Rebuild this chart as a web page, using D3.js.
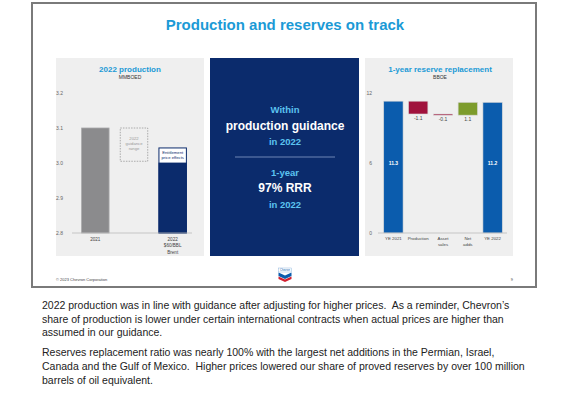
<!DOCTYPE html>
<html><head><meta charset="utf-8">
<script src="https://cdn.jsdelivr.net/npm/d3@7"></script>
<style>html,body{margin:0;padding:0;background:#fff;}svg{display:block;font-family:"Liberation Sans",Arial,sans-serif;}</style>
</head><body>
<svg id="c" width="576" height="394"></svg>
<script>
// ---- data ----
const prodCategories = ["2021", "guidance", "2022"];
const prodValues = [3.1, null, 3.0];
const guidanceRange = [3.005, 3.1];
const entitlementTop = 3.043;
const prodTicks = [2.8, 2.9, 3.0, 3.1, 3.2];
const prodXLabels = [["2021"], [], ["2022", "$60/BBL", "Brent"]];

const reserveCategories = ["YE 2021", "Production", "Asset sales", "Net adds", "YE 2022"];
const reserveValues = [11.3, -1.1, -0.1, 1.1, 11.2];
const reserveTypes = ["total", "neg", "neg", "pos", "total"];
const reserveTicks = [0, 6, 12];
const reserveXLabels = [["YE 2021"], ["Production"], ["Asset", "sales"], ["Net", "adds"], ["YE 2022"]];

const bodyText = [
  ["2022 production was in line with guidance after adjusting for higher prices.  As a reminder, Chevron\u2019s",
   "share of production is lower under certain international contracts when actual prices are higher than",
   "assumed in our guidance."],
  ["Reserves replacement ratio was nearly 100% with the largest net additions in the Permian, Israel,",
   "Canada and the Gulf of Mexico.  Higher prices lowered our share of proved reserves by over 100 million",
   "barrels of oil equivalent."]
];

const svg = d3.select("#c");
const cyan = "#1b9ad6";

// slide frame
svg.append("rect").attr("x", 32).attr("y", 3).attr("width", 504).attr("height", 284)
  .attr("fill", "#fff").attr("stroke", "#7a7a7a").attr("stroke-width", 2);

svg.append("text").attr("x", 285).attr("y", 30).attr("text-anchor", "middle")
  .attr("font-size", 15).attr("font-weight", "bold").attr("fill", cyan)
  .text("Production and reserves on track");

// panels
svg.append("rect").attr("x", 56).attr("y", 58).attr("width", 148).attr("height", 198).attr("fill", "#efefef");
svg.append("rect").attr("x", 210).attr("y", 58).attr("width", 149).attr("height", 198).attr("fill", "#0b2b6c");
svg.append("rect").attr("x", 365).attr("y", 58).attr("width", 148).attr("height", 198).attr("fill", "#efefef");

// ---------- left chart ----------
const yL = d3.scaleLinear().domain([2.8, 3.2]).range([233, 93]);
const xL = d3.scaleBand().domain(prodCategories).range([76, 192]).paddingInner(0.29).paddingOuter(0.145);
const gL = svg.append("g");
gL.append("text").attr("x", 130).attr("y", 72).attr("text-anchor", "middle").attr("font-size", 8)
  .attr("font-weight", "bold").attr("fill", cyan).text("2022 production");
gL.append("text").attr("x", 130).attr("y", 79).attr("text-anchor", "middle").attr("font-size", 5)
  .attr("fill", "#333").text("MMBOED");

const axL = gL.append("g").attr("transform", "translate(66,0)")
  .call(d3.axisLeft(yL).tickValues(prodTicks).tickFormat(d3.format(".1f")).tickSize(0));
axL.select(".domain").remove();
axL.selectAll("text").attr("font-size", 5).attr("fill", "#666").attr("font-family", "Liberation Sans, Arial");

// entitlement box
gL.append("rect").attr("x", xL("2022")).attr("y", yL(entitlementTop)).attr("width", xL.bandwidth())
  .attr("height", yL(2.8) - yL(entitlementTop)).attr("fill", "#fff").attr("stroke", "#0b2b6c").attr("stroke-width", 1);
gL.selectAll("rect.bar").data(prodCategories.filter((c, i) => prodValues[i] != null)).join("rect")
  .attr("class", "bar")
  .attr("x", d => xL(d)).attr("width", xL.bandwidth())
  .attr("y", d => yL(prodValues[prodCategories.indexOf(d)]))
  .attr("height", d => yL(2.8) - yL(prodValues[prodCategories.indexOf(d)]))
  .attr("fill", (d, i) => i === 0 ? "#8b8b8d" : "#0b2b6c")
  .attr("stroke", (d, i) => i === 0 ? "#a9a9ab" : "#0b2b6c").attr("stroke-width", 0.8);
const ex = xL("2022") + xL.bandwidth() / 2;
gL.append("text").attr("x", ex).attr("y", yL(entitlementTop) + 6).attr("text-anchor", "middle")
  .attr("font-size", 4.2).attr("fill", "#0b2b6c").text("Entitlement");
gL.append("text").attr("x", ex).attr("y", yL(entitlementTop) + 11).attr("text-anchor", "middle")
  .attr("font-size", 4.2).attr("fill", "#0b2b6c").text("price effects");

// guidance box
gL.append("rect").attr("x", xL("guidance")).attr("y", yL(guidanceRange[1])).attr("width", xL.bandwidth())
  .attr("height", yL(guidanceRange[0]) - yL(guidanceRange[1])).attr("fill", "none")
  .attr("stroke", "#999").attr("stroke-width", 0.8).attr("stroke-dasharray", "1.5,1.2");
const gx = xL("guidance") + xL.bandwidth() / 2;
["2022", "guidance", "range"].forEach((t, i) => {
  gL.append("text").attr("x", gx).attr("y", yL(guidanceRange[1]) + 12 + i * 5).attr("text-anchor", "middle")
    .attr("font-size", 4.2).attr("fill", "#999").text(t);
});
// x axis line
gL.append("line").attr("x1", 72).attr("x2", 192).attr("y1", yL(2.8)).attr("y2", yL(2.8))
  .attr("stroke", "#bbb").attr("stroke-width", 0.8);
prodCategories.forEach((c, i) => {
  prodXLabels[i].forEach((t, j) => {
    gL.append("text").attr("x", xL(c) + xL.bandwidth() / 2).attr("y", 241 + j * 6.3).attr("text-anchor", "middle")
      .attr("font-size", 4.6).attr("fill", "#444").text(t);
  });
});

// ---------- middle panel ----------
const lc = "#5cc3f0";
const mid = [
  ["Within", 113, 9.5, lc], ["production guidance", 130, 12, "#fff"], ["in 2022", 145, 9.5, lc],
  ["1-year", 176, 9.5, lc], ["97% RRR", 192, 12, "#fff"], ["in 2022", 208, 9.5, lc]
];
mid.forEach(m => svg.append("text").attr("x", 285).attr("y", m[1]).attr("text-anchor", "middle")
  .attr("font-size", m[2]).attr("font-weight", "bold").attr("fill", m[3]).text(m[0]));
svg.append("line").attr("x1", 235).attr("x2", 335).attr("y1", 157).attr("y2", 157)
  .attr("stroke", "#6f86b5").attr("stroke-width", 1);

// ---------- right chart ----------
const yR = d3.scaleLinear().domain([0, 12]).range([233, 93]);
const xR = d3.scaleBand().domain(reserveCategories).range([381, 505]).paddingInner(0.22).paddingOuter(0.11);
const gR = svg.append("g");
gR.append("text").attr("x", 440).attr("y", 72).attr("text-anchor", "middle").attr("font-size", 8)
  .attr("font-weight", "bold").attr("fill", cyan).text("1-year reserve replacement");
gR.append("text").attr("x", 440).attr("y", 79).attr("text-anchor", "middle").attr("font-size", 5)
  .attr("fill", "#333").text("BBOE");
const axR = gR.append("g").attr("transform", "translate(375,0)")
  .call(d3.axisLeft(yR).tickValues(reserveTicks).tickSize(0));
axR.select(".domain").remove();
axR.selectAll("text").attr("font-size", 5).attr("fill", "#666").attr("font-family", "Liberation Sans, Arial");

let run = 0;
const segs = reserveValues.map((v, i) => {
  let lo, hi;
  if (reserveTypes[i] === "total") { lo = 0; hi = v; run = v; }
  else { const s = run; run = run + v; lo = Math.min(s, run); hi = Math.max(s, run); }
  return { c: reserveCategories[i], v, lo, hi, t: reserveTypes[i] };
});
const colR = { total: "#0b5cad", neg: "#a0123c", pos: "#7d9c2c" };
gR.selectAll("rect.bar").data(segs).join("rect").attr("class", "bar")
  .attr("x", d => xR(d.c)).attr("width", xR.bandwidth())
  .attr("y", d => yR(d.hi)).attr("height", d => Math.max(1, yR(d.lo) - yR(d.hi)))
  .attr("fill", d => colR[d.t]).attr("stroke", "#d8d8d8").attr("stroke-width", 0.6);
segs.forEach(d => {
  const cx = xR(d.c) + xR.bandwidth() / 2;
  if (d.t === "total") {
    gR.append("text").attr("x", cx).attr("y", yR(6) + 2).attr("text-anchor", "middle")
      .attr("font-size", 5).attr("font-weight", "bold").attr("fill", "#fff").text(d.v.toFixed(1));
  } else {
    gR.append("text").attr("x", cx).attr("y", yR(d.lo) + 6).attr("text-anchor", "middle")
      .attr("font-size", 5).attr("fill", "#444").text(d.v.toFixed(1));
  }
});
gR.append("line").attr("x1", 378).attr("x2", 507).attr("y1", yR(0)).attr("y2", yR(0))
  .attr("stroke", "#bbb").attr("stroke-width", 0.8);
reserveCategories.forEach((c, i) => {
  reserveXLabels[i].forEach((t, j) => {
    gR.append("text").attr("x", xR(c) + xR.bandwidth() / 2).attr("y", 240 + j * 6.3).attr("text-anchor", "middle")
      .attr("font-size", 4.4).attr("fill", "#444").text(t);
  });
});

// ---------- footer ----------
svg.append("text").attr("x", 56).attr("y", 281).attr("font-size", 4).attr("fill", "#444").text("\u00a9 2023 Chevron Corporation");
svg.append("text").attr("x", 513).attr("y", 281).attr("font-size", 4).attr("fill", "#444").attr("text-anchor", "end").text("9");
// logo
const lg = svg.append("g").attr("transform", "translate(285,268)");
lg.append("rect").attr("x", -6.5).attr("y", 0).attr("width", 13).attr("height", 4).attr("fill", "#fff").attr("stroke", "#7aa7d8").attr("stroke-width", 0.4);
lg.append("text").attr("x", 0).attr("y", 3).attr("text-anchor", "middle").attr("font-size", 2.6).attr("fill", "#0b5cad").text("Chevron");
lg.append("path").attr("d", "M-6.5,4.5 L0,7.5 L6.5,4.5 L6.5,8 L0,11 L-6.5,8 Z").attr("fill", "#0b5cad");
lg.append("path").attr("d", "M-6.5,8.5 L0,11.5 L6.5,8.5 L6.5,11 L0,14 L-6.5,11 Z").attr("fill", "#d22030");

// ---------- body text ----------
const tb = svg.append("g");
let ty = 309;
bodyText.forEach((para, pi) => {
  para.forEach(line => {
    tb.append("text").attr("x", 42).attr("y", ty).attr("font-size", 10.5).attr("fill", "#222")
      .attr("xml:space", "preserve").style("white-space", "pre").text(line);
    ty += 13.6;
  });
  ty += 6.5;
});
</script>
</body></html>
